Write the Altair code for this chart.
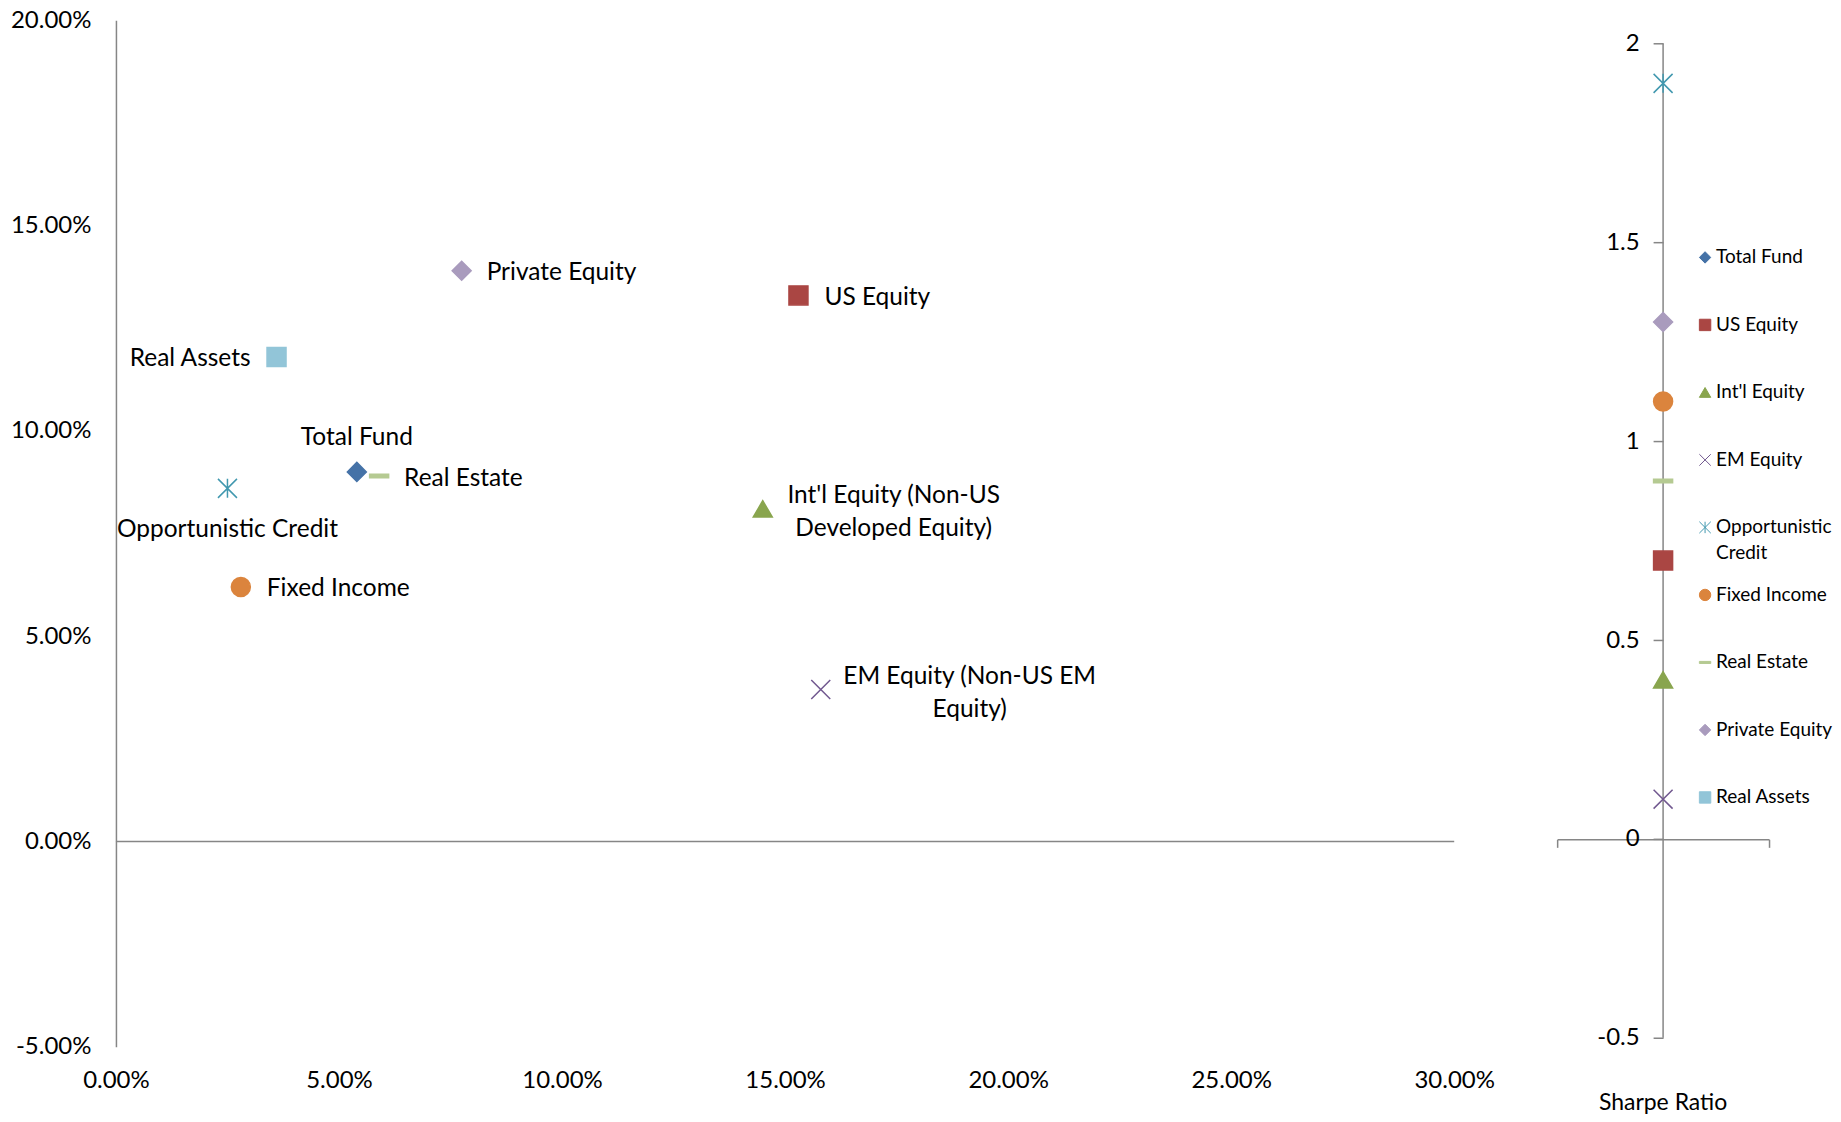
import altair as alt
import pandas as pd

# ---------------- data ----------------
names = ["Total Fund", "US Equity", "Int'l Equity", "EM Equity", "Opportunistic Credit",
         "Fixed Income", "Real Estate", "Private Equity", "Real Assets"]
risk = [5.40, 15.30, 14.50, 15.80, 2.50, 2.80, 5.90, 7.75, 3.60]        # x, %
ret = [9.00, 13.30, 8.10, 3.70, 8.60, 6.20, 8.90, 13.90, 11.80]         # y, %
sharpe = [None, 0.70, 0.40, 0.10, 1.90, 1.10, 0.90, 1.30, None]
point_labels = ["Total Fund", "US Equity", "Int'l Equity (Non-US\nDeveloped Equity)",
                "EM Equity (Non-US EM\nEquity)", "Opportunistic Credit", "Fixed Income",
                "Real Estate", "Private Equity", "Real Assets"]
legend_labels = ["Total Fund", "US Equity", "Int'l Equity", "EM Equity", "Opportunistic\nCredit",
                 "Fixed Income", "Real Estate", "Private Equity", "Real Assets"]
x_ticks = [0, 5, 10, 15, 20, 25, 30]
y_ticks = [-5, 0, 5, 10, 15, 20]
sharpe_ticks = [-0.5, 0, 0.5, 1, 1.5, 2]

# ---------------- styles ----------------
colors = ["#4572A7", "#AA4643", "#89A54E", "#71588F", "#4198AF",
          "#DB843D", "#B5CA92", "#A99BBD", "#92C5D8"]
shapes = ["diamond", "square", "triangle-up", "M-1,-1L1,1M-1,1L1,-1",
          "M-1,-1L1,1M-1,1L1,-1M0,-1L0,1", "circle",
          "M-1,-0.18L1,-0.18L1,0.18L-1,0.18Z", "diamond", "square"]
LABEL_PLACEMENT = {
    "Total Fund": ("center", 0, -34),
    "US Equity": ("left", 26, 2.5),
    "Int'l Equity": ("center", 131, -13),
    "EM Equity": ("center", 149, -13),
    "Opportunistic Credit": ("center", 0, 41.5),
    "Fixed Income": ("left", 26, 2.5),
    "Real Estate": ("left", 25, 3),
    "Private Equity": ("left", 25, 2.5),
    "Real Assets": ("right", -26, 2.5),
}
FONT = "Lato"
GRAY = "#868686"

df = pd.DataFrame({"name": names, "risk": risk, "ret": ret, "sharpe": sharpe,
                   "label": point_labels, "legend": legend_labels,
                   "order": list(range(len(names)))})

color_scale = alt.Scale(domain=names, range=colors)
shape_scale = alt.Scale(domain=names, range=shapes)

pct_expr = "(datum.value < 0 ? '-' : '') + format(abs(datum.value) / 100, '.2%')"

x_main = alt.X("risk:Q",
               scale=alt.Scale(domain=[x_ticks[0], x_ticks[-1]], nice=False, zero=False),
               axis=alt.Axis(values=x_ticks, labelExpr=pct_expr, domain=False, ticks=False,
                             grid=False, labelFlush=False, labelPadding=22, labelFontSize=24,
                             labelFont=FONT, labelColor="black", title=None))
y_main = alt.Y("ret:Q",
               scale=alt.Scale(domain=[y_ticks[0], y_ticks[-1]], nice=False, zero=False),
               axis=alt.Axis(values=y_ticks, labelExpr=pct_expr, domain=True, domainColor=GRAY,
                             domainWidth=1.5, ticks=False, grid=False, labelFlush=False,
                             labelPadding=25, labelFontSize=24, labelFont=FONT,
                             labelColor="black", title=None))

enc_sym = dict(
    color=alt.Color("name:N", scale=color_scale, legend=None),
    stroke=alt.Stroke("name:N", scale=color_scale, legend=None),
    shape=alt.Shape("name:N", scale=shape_scale, legend=None),
)

zero_df = pd.DataFrame({"x": [x_ticks[0]], "x2": [x_ticks[-1]], "y": [0]})
zero_line = alt.Chart(zero_df).mark_rule(color=GRAY, strokeWidth=1.5).encode(
    x=alt.X("x:Q", scale=alt.Scale(domain=[x_ticks[0], x_ticks[-1]], nice=False, zero=False)),
    x2="x2:Q", y=alt.Y("y:Q"))

points = alt.Chart(df).mark_point(filled=True, size=361, strokeWidth=1.5, opacity=1).encode(
    x=x_main, y=y_main, **enc_sym)

label_layers = []
for n in names:
    al, dx, dy = LABEL_PLACEMENT[n]
    label_layers.append(
        alt.Chart(df).transform_filter(alt.datum.name == n).mark_text(
            align=al, baseline="middle", dx=dx, dy=dy, fontSize=24.5, font=FONT,
            color="black", lineBreak="\n", lineHeight=33
        ).encode(x="risk:Q", y="ret:Q", text="label:N")
    )

main = alt.layer(zero_line, points, *label_layers).properties(width=1339, height=1027)

# ---------------- right panel: Sharpe ratio ----------------
sh_domain = [-0.5226, 2.0586]
y_sh = alt.Scale(domain=sh_domain, nice=False, zero=False)
x_sh_scale = alt.Scale(domain=[0, 1], nice=False, zero=False)
x_sh_axis = alt.Axis(values=[0, 1], orient="bottom", offset=-207.5, domain=True,
                     domainColor=GRAY, domainWidth=1.5, ticks=True, tickSize=8,
                     tickColor=GRAY, tickWidth=1.5, labels=False, grid=False, title=None)
num_expr = "(datum.value < 0 ? '-' : '') + abs(datum.value)"

axis_df = pd.DataFrame({"y": [sharpe_ticks[0]], "y2": [sharpe_ticks[-1]]})
sh_rule = alt.Chart(axis_df).mark_rule(color=GRAY, strokeWidth=1.5).encode(
    x=alt.XDatum(0.5, type="quantitative", scale=x_sh_scale, axis=x_sh_axis),
    y=alt.Y("y:Q", scale=y_sh,
            axis=alt.Axis(values=sharpe_ticks, orient="left", offset=-106, domain=False,
                          ticks=True, tickSize=10, tickColor=GRAY, tickWidth=1.5,
                          labelPadding=14, labelFontSize=24, labelFont=FONT,
                          labelColor="black", labelFlush=False, grid=False, title=None,
                          labelExpr=num_expr)),
    y2="y2:Q")

sh_points = alt.Chart(df).transform_filter("isValid(datum.sharpe)").mark_point(
    filled=True, size=361, strokeWidth=1.5, opacity=1).encode(
    x=alt.XDatum(0.5, type="quantitative", scale=x_sh_scale, axis=x_sh_axis),
    y=alt.Y("sharpe:Q", scale=y_sh),
    **enc_sym)

sharpe_layer = alt.layer(sh_rule, sh_points)

# legend: entries stacked by their order, one step apart
leg_y = alt.Y("order:Q", scale=alt.Scale(domain=[-3.513, 11.693], reverse=True, nice=False,
                                         zero=False), axis=None)
leg_points = alt.Chart(df).mark_point(filled=True, size=130, strokeWidth=1, opacity=1).encode(
    x=alt.value(148), y=leg_y, **enc_sym)
leg_text = alt.Chart(df).mark_text(align="left", baseline="middle", fontSize=19, font=FONT,
                                   color="black", lineBreak="\n", lineHeight=26).encode(
    x=alt.value(159), y=leg_y, text="legend:N")
legend_layer = alt.layer(leg_points, leg_text)

right = alt.layer(sharpe_layer, legend_layer).resolve_scale(y="independent").properties(
    width=212, height=1027,
    title=alt.TitleParams("Sharpe Ratio", orient="bottom", anchor="middle", fontSize=23,
                          font=FONT, fontWeight="normal", color="black", offset=42))

chart = alt.hconcat(main, right, spacing=103, bounds="flush").properties(
    padding={"left": 2, "top": 0, "right": 0, "bottom": 0}
).configure_view(stroke=None)

chart.save("out.html", embed_options={"renderer": "svg", "actions": False})
